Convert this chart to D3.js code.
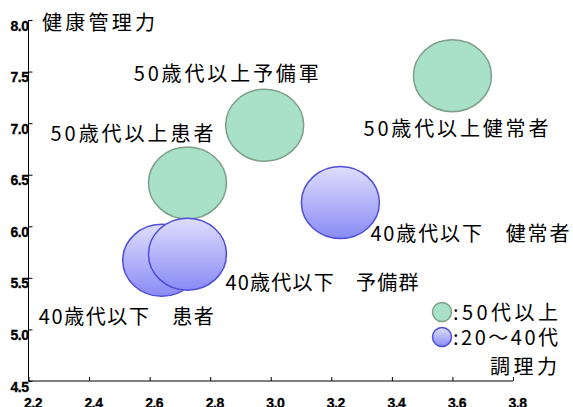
<!DOCTYPE html>
<html>
<head>
<meta charset="utf-8">
<script src="https://cdn.jsdelivr.net/npm/d3@7"></script>
<style>
  body { margin: 0; background: #fff; }
  svg { display: block; }
</style>
</head>
<body>
<svg id="chart" width="573" height="407"></svg>
<script>
const width = 573;
const height = 407;

// data
const groups = ["50歳代以上健常者", "50歳代以上予備軍", "50歳代以上患者", "40歳代以下　健常者", "40歳代以下　患者", "40歳代以下　予備群"];
const cooking = [3.60, 2.98, 2.725, 3.23, 2.64, 2.725];   // 調理力
const health = [7.46, 6.98, 6.42, 6.23, 5.67, 5.73];      // 健康管理力
const sizes = [1, 1, 1, 1, 1, 1];
const ageGroup = ["50", "50", "50", "40", "40", "40"];

const xTicks = [2.2, 2.4, 2.6, 2.8, 3.0, 3.2, 3.4, 3.6, 3.8];
const yTicks = [4.5, 5.0, 5.5, 6.0, 6.5, 7.0, 7.5, 8.0];
const legendLabels = [":50代以上", ":20〜40代"];

// label layout: offset from bubble centre and text width (px)
const labelOffset = [[-89, 60], [-131, -44], [-137, -42], [30, 38], [-123, 64], [38, 36]];
const labelWidth = [185, 185, 163, 199, 175, 193];

const svg = d3.select("#chart");

const x = d3.scaleLinear().domain([2.2, 3.8]).range([28.5, 513]);
const y = d3.scaleLinear().domain([4.5, 8.0]).range([381, 20]);
const r = d3.scaleSqrt().domain([0, 1]).range([0, 39]);
const squash = 36 / 39; // bubbles are a bit wider than tall

const defs = svg.append("defs");
const grad = defs.append("linearGradient")
    .attr("id", "blueGrad")
    .attr("x1", 0).attr("y1", 0).attr("x2", 0).attr("y2", 1);
grad.append("stop").attr("offset", "0%").attr("stop-color", "#dedefd");
grad.append("stop").attr("offset", "100%").attr("stop-color", "#8a8af5");

const fillFor = g => g === "50" ? "#a9e0c8" : "url(#blueGrad)";
const strokeFor = g => g === "50" ? "#7d9f8a" : "#4e4ed8";

// axes
const xAxis = d3.axisBottom(x).tickValues(xTicks).tickSize(-4).tickFormat(d3.format(".1f"));
const yAxis = d3.axisLeft(y).tickValues(yTicks).tickSize(-4).tickFormat(d3.format(".1f"));

const gx = svg.append("g").attr("transform", `translate(0,${y(4.5)})`).call(xAxis);
const gy = svg.append("g").attr("transform", `translate(${x(2.2)},0)`).call(yAxis);

[gx, gy].forEach(g => {
    g.attr("font-size", 14)
        .attr("font-family", "'Liberation Sans', Arial, sans-serif")
        .attr("font-weight", "bold");
    g.select(".domain").attr("stroke", "#000");
    g.selectAll(".tick line").attr("stroke", "#000");
    g.selectAll(".tick text")
        .attr("fill", "#000")
        .attr("stroke", "#000")
        .attr("stroke-width", 0.3)
        .attr("letter-spacing", "-0.5px");
});
gx.select(".domain").attr("d", `M${x(2.2)},0H${x(3.8)}`);
gy.select(".domain").attr("d", `M0,${y(4.5)}V${y(8.0)}`);
gx.selectAll(".tick text").attr("y", 0).attr("dy", "27px").attr("dx", "4px");
gy.selectAll(".tick text").attr("x", 0).attr("dy", "0.72em");

// bubbles
const data = groups.map((g, i) => ({
    name: g, cx: cooking[i], cy: health[i], size: sizes[i], age: ageGroup[i],
    off: labelOffset[i], w: labelWidth[i]
}));

svg.append("g")
    .selectAll("ellipse")
    .data(data)
    .enter().append("ellipse")
    .attr("cx", d => x(d.cx))
    .attr("cy", d => y(d.cy))
    .attr("rx", d => r(d.size))
    .attr("ry", d => r(d.size) * squash)
    .attr("fill", d => fillFor(d.age))
    .attr("stroke", d => strokeFor(d.age))
    .attr("stroke-width", 1.5);

const jpFont = "'Noto Sans CJK JP', 'Noto Sans', sans-serif";

svg.append("g")
    .selectAll("text")
    .data(data)
    .enter().append("text")
    .attr("x", d => x(d.cx) + d.off[0])
    .attr("y", d => y(d.cy) + d.off[1])
    .attr("font-family", jpFont)
    .attr("font-size", "20px")
    .attr("textLength", d => d.w)
    .attr("lengthAdjust", "spacing")
    .attr("fill", "#000")
    .text(d => d.name);

// axis titles
svg.append("text")
    .attr("x", 42).attr("y", 30)
    .attr("font-family", jpFont).attr("font-size", "20px")
    .attr("textLength", 113).attr("lengthAdjust", "spacing")
    .text("健康管理力");
svg.append("text")
    .attr("x", 490).attr("y", 374)
    .attr("font-family", jpFont).attr("font-size", "20px")
    .attr("textLength", 67).attr("lengthAdjust", "spacing")
    .text("調理力");

// legend
const legend = svg.append("g")
    .selectAll("g")
    .data(legendLabels)
    .enter().append("g")
    .attr("transform", (d, i) => `translate(442, ${312 + i * 25})`);

legend.append("circle")
    .attr("r", 9.5)
    .attr("fill", (d, i) => fillFor(i === 0 ? "50" : "40"))
    .attr("stroke", (d, i) => strokeFor(i === 0 ? "50" : "40"))
    .attr("stroke-width", 1.5);

legend.append("text")
    .attr("x", 11)
    .attr("y", 8)
    .attr("font-family", jpFont)
    .attr("font-size", "20px")
    .attr("textLength", 105)
    .attr("lengthAdjust", "spacing")
    .text(d => d);
</script>
</body>
</html>
